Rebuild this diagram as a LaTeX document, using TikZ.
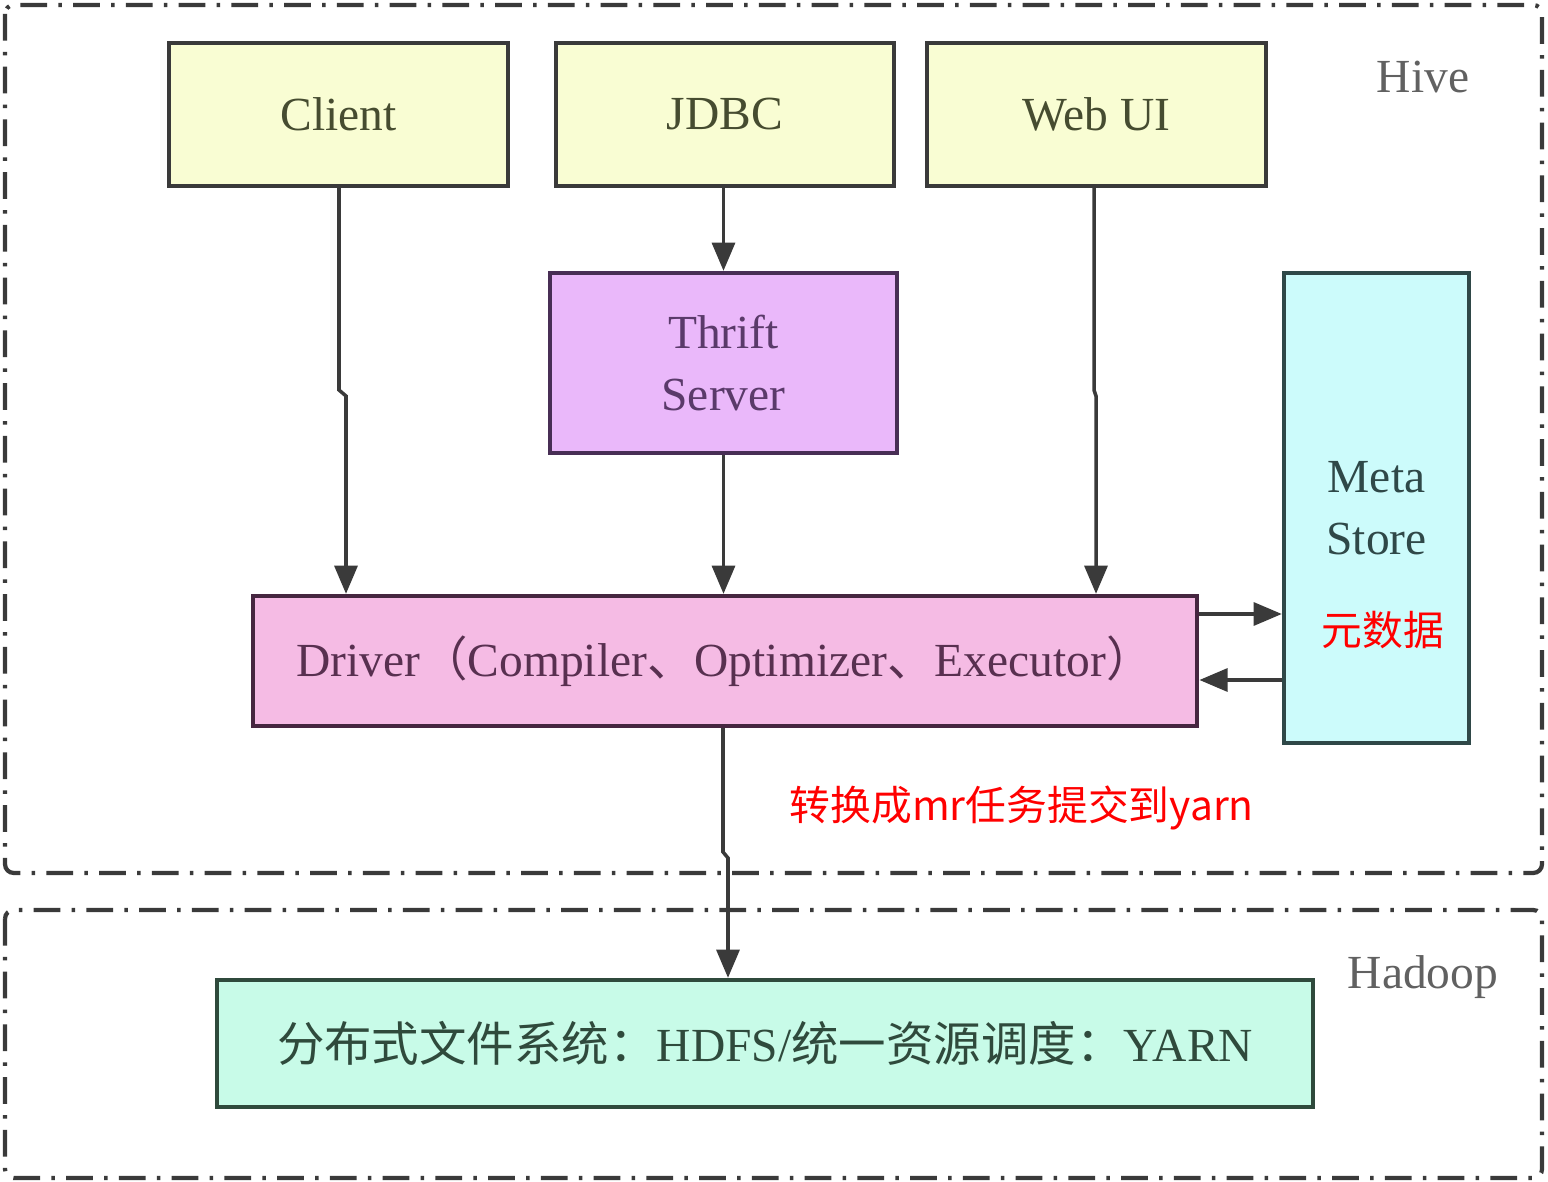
\documentclass[tikz,border=0pt]{standalone}
\usepackage{fontspec}
\setmainfont{Liberation Serif}
\newfontfamily\cjk{Noto Sans CJK SC}
\usetikzlibrary{arrows.meta}
\definecolor{yelfill}{HTML}{F9FDD3}
\definecolor{purfill}{HTML}{EAB8FA}
\definecolor{pinkfill}{HTML}{F5BBE4}
\definecolor{cyanfill}{HTML}{CCFBFB}
\definecolor{mintfill}{HTML}{C8FBE8}
\definecolor{yeltext}{HTML}{464C30}
\definecolor{purtext}{HTML}{5A3A6A}
\definecolor{pinktext}{HTML}{583050}
\definecolor{cyantext}{HTML}{2F4848}
\definecolor{minttext}{HTML}{2F4A3C}
\definecolor{linegray}{HTML}{3A3A3A}
\tikzset{
  box/.style={draw, line width=1.2pt, rectangle, inner sep=0pt, align=center,
    font=\fontsize{13.5}{17.5}\selectfont},
  yelbox/.style={box, fill=yelfill, draw=linegray, text=yeltext},
  purbox/.style={box, fill=purfill, draw=purtext!80!black, text=purtext},
  pinkbox/.style={box, fill=pinkfill, draw=pinktext!80!black, text=pinktext},
  cyanbox/.style={box, fill=cyanfill, draw=cyantext, text=cyantext},
  mintbox/.style={box, fill=mintfill, draw=minttext, text=minttext},
  region/.style={draw=linegray, line width=1.2pt, rounded corners=2.5pt,
    dash pattern=on 7.6pt off 3.2pt on 1pt off 3.2pt},
  arr/.style={draw=linegray, line width=1pt, -{Triangle[length=8pt,width=6.5pt]}},
  regionlabel/.style={text=linegray!80, font=\fontsize{13.5}{16}\selectfont},
  redtext/.style={text=red, inner sep=0pt, font=\cjk\fontsize{11.6}{14}\selectfont}
}
\begin{document}
\begin{tikzpicture}[x=0.01cm,y=-0.01cm]
\useasboundingbox (0,0) rectangle (1548,1182);
\fill[white] (0,0) rectangle (1548,1182);
% regions
\draw[region] (5,5) rectangle (1542,873);
\draw[region] (5,910) rectangle (1542,1178);
\node[regionlabel] (hivelbl) at (1423,77) {Hive};
\node[regionlabel] (hadooplbl) at (1423,977) {Hadoop};
% boxes
\node[yelbox, minimum width=3.39cm, minimum height=1.43cm] (client) at (338.5,114.5) {Client};
\node[yelbox, minimum width=3.38cm, minimum height=1.43cm] (jdbc) at (725,114.5) {JDBC};
\node[yelbox, minimum width=3.39cm, minimum height=1.43cm] (webui) at (1096.5,114.5) {Web UI};
\node[purbox, minimum width=3.47cm, minimum height=1.80cm] (thrift) at (723.5,363) {Thrift\\Server};
\node[cyanbox, minimum width=1.85cm, minimum height=4.70cm] (meta) at (1376.5,508) {Meta\\Store};
\node[pinkbox, minimum width=9.44cm, minimum height=1.30cm] (driver) at (725,661)
  {Driver{\cjk （}Compiler{\cjk 、}Optimizer{\cjk 、}Executor{\cjk ）}};
\node[mintbox, minimum width=10.96cm, minimum height=1.27cm] (hdfs) at (765,1043.5)
  {{\cjk 分布式文件系统：}HDFS/{\cjk 统一资源调度：}YARN};
\node[redtext] (metalbl) at (1383,630) {元数据};
\node[redtext, anchor=west] (mrlbl) at (789,808) {转换成mr任务提交到yarn};
% connectors
\coordinate (cj1) at (339,390);
\coordinate (cj2) at (346,396);
\draw[arr] (client.south -| cj1) -- (cj1) -- (cj2) -- (cj2 |- driver.north);
\draw[arr] (jdbc.south -| thrift.north) -- (thrift.north);
\draw[arr] (thrift.south) -- (thrift.south |- driver.north);
\coordinate (wj1) at (1094,390);
\coordinate (wj2) at (1096,396);
\draw[arr] (webui.south -| wj1) -- (wj1) -- (wj2) -- (wj2 |- driver.north);
\coordinate (dj1) at (723,852);
\coordinate (dj2) at (728,858);
\draw[arr] (driver.south -| dj1) -- (dj1) -- (dj2) -- (dj2 |- hdfs.north);
\coordinate (m1) at (0,614);
\coordinate (m2) at (0,680);
\draw[arr] (driver.east |- m1) -- (meta.west |- m1);
\draw[arr] (meta.west |- m2) -- (driver.east |- m2);
\end{tikzpicture}
\end{document}
